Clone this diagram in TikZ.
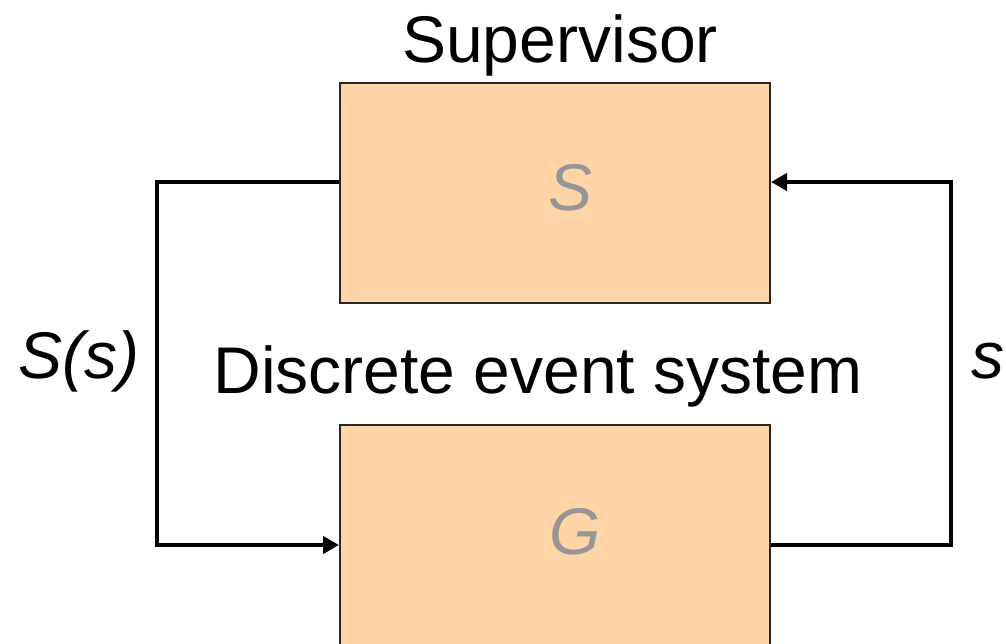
\documentclass[tikz,border=0pt]{standalone}
\usepackage{fontspec}
\setmainfont{Liberation Sans}
\usetikzlibrary{arrows.meta}
\definecolor{peach}{HTML}{FFD5A8}
\definecolor{lbl}{HTML}{969696}
\begin{document}
\begin{tikzpicture}[x=1pt,y=-1pt,
  blk/.style={draw=black!85, line width=2pt, fill=peach, minimum width=430pt, minimum height=220pt, inner sep=0pt, anchor=north west},
  txt/.style={font=\fontsize{66}{79}\selectfont, inner sep=0pt},
  wire/.style={line width=4.5pt},
  tip/.style={-{Triangle[length=16pt,width=17pt]}}]
\useasboundingbox (0,0) rectangle (1006,644);
\clip (0,0) rectangle (1006,644);
\fill[white] (0,0) rectangle (1006,644);
\node[blk] (S) at (339,82) {};
\node[blk, minimum height=250pt] (G) at (339,424) {};
\node[txt, anchor=base] (sup) at (560,63) {Supervisor};
\node[txt, anchor=base] (des) at (538,393) {Discrete event system};
\node[txt, anchor=base, text=lbl] (sl) at (571,211) {\itshape S};
\node[txt, anchor=base, text=lbl] (gl) at (575,554) {\itshape G};
\node[txt, anchor=base west] (ssl) at (18,378) {\itshape S(s)};
\node[txt, anchor=base west] (sr) at (971,378) {\itshape s};
\coordinate (L1) at (157,182);
\coordinate (L2) at (157,545);
\coordinate (R1) at (951,545);
\coordinate (R2) at (951,182);
\draw[wire,tip] (S.west |- L1) -- (L1) -- (L2) -- (G.west |- L2);
\draw[wire,tip] (G.east |- R1) -- (R1) -- (R2) -- (S.east |- R2);
\end{tikzpicture}
\end{document}
